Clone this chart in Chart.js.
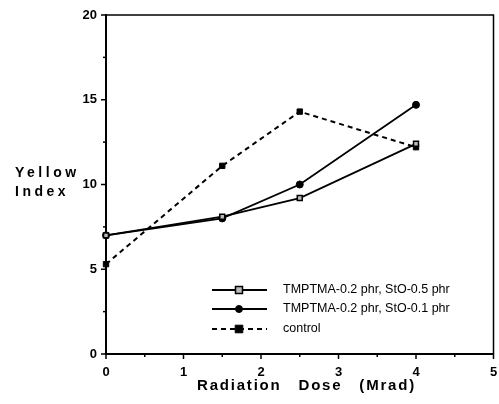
<!DOCTYPE html>
<html>
<head>
<meta charset="utf-8">
<script src="https://cdn.jsdelivr.net/npm/chart.js@4/dist/chart.umd.min.js"></script>
<style>
  html, body { margin: 0; padding: 0; background: #fff; }
  #wrap { width: 499px; height: 404px; }
</style>
</head>
<body>
<div id="wrap"><canvas id="chart" width="499" height="404"></canvas></div>
<script>
const doses = [0, 1.5, 2.5, 4];
const sto05 = [7.0, 8.1, 9.2, 12.4];
const sto01 = [7.0, 8.0, 10.0, 14.7];
const control = [5.3, 11.1, 14.3, 12.2];
const seriesNames = ["TMPTMA-0.2 phr, StO-0.5 phr", "TMPTMA-0.2 phr, StO-0.1 phr", "control"];
const xTitle = "Radiation Dose (Mrad)";
const yTitle = ["Yellow", "Index"];

const FONT = '"Liberation Sans", Arial, Helvetica, sans-serif';
Chart.defaults.font.family = FONT;
Chart.defaults.color = "#000";

function pts(ys) {
  return doses.map((x, i) => ({ x: x, y: ys[i] }));
}

function drawMarker(ctx, ds, x, y) {
  const r = ds.pointRadius;
  ctx.save();
  ctx.setLineDash([]);
  ctx.lineWidth = ds.pointBorderWidth;
  ctx.strokeStyle = "#000";
  ctx.fillStyle = ds.pointBackgroundColor;
  ctx.beginPath();
  if (ds.pointStyle === "circle") ctx.arc(x, y, r, 0, Math.PI * 2);
  else ctx.rect(x - r, y - r, r * 2, r * 2);
  ctx.fill();
  ctx.stroke();
  ctx.restore();
}

// frame, minor ticks, titles and the inside legend
const decor = {
  id: "decor",
  afterDraw(chart) {
    const ctx = chart.ctx;
    const a = chart.chartArea;
    const xs = chart.scales.x, ys = chart.scales.y;
    ctx.save();
    ctx.strokeStyle = "#000";

    // top + right frame
    ctx.lineWidth = 1.5;
    ctx.beginPath();
    ctx.moveTo(a.left, a.top);
    ctx.lineTo(a.right, a.top);
    ctx.lineTo(a.right, a.bottom);
    ctx.stroke();

    // tick marks
    ctx.lineWidth = 1.5;
    for (let v = 0; v <= 5.001; v += 0.5) {
      const px = xs.getPixelForValue(v);
      const len = Math.abs(v - Math.round(v)) < 0.01 ? 5 : 3;
      ctx.beginPath();
      ctx.moveTo(px, a.bottom);
      ctx.lineTo(px, a.bottom + len);
      ctx.stroke();
    }
    for (let v = 0; v <= 20.001; v += 2.5) {
      const py = ys.getPixelForValue(v);
      const len = v % 5 === 0 ? 5 : 3;
      ctx.beginPath();
      ctx.moveTo(a.left, py);
      ctx.lineTo(a.left - len, py);
      ctx.stroke();
    }

    // axis titles
    ctx.fillStyle = "#000";
    ctx.font = "bold 14px " + FONT;
    ctx.letterSpacing = "3.5px";
    ctx.textAlign = "left";
    ctx.textBaseline = "alphabetic";
    ctx.fillText(yTitle[0], 15, 177);
    ctx.fillText(yTitle[1], 15, 196);

    ctx.font = "bold 15px " + FONT;
    ctx.letterSpacing = "1.8px";
    ctx.wordSpacing = "11px";
    ctx.fillText(xTitle, 197, 390);
    ctx.letterSpacing = "0px";
    ctx.wordSpacing = "0px";

    // legend
    ctx.font = "12.5px " + FONT;
    const rows = [290, 309, 329];
    chart.data.datasets.forEach((ds, i) => {
      const y = rows[i];
      ctx.lineWidth = ds.borderWidth;
      ctx.setLineDash(ds.borderDash || []);
      ctx.beginPath();
      ctx.moveTo(212, y);
      ctx.lineTo(267, y);
      ctx.stroke();
      drawMarker(ctx, ds, 239, y);
      ctx.fillStyle = "#000";
      ctx.textBaseline = "middle";
      ctx.fillText(seriesNames[i], 283, y);
    });
    ctx.restore();
  }
};

new Chart(document.getElementById("chart"), {
  type: "line",
  data: {
    datasets: [
      {
        label: seriesNames[0],
        data: pts(sto05),
        borderColor: "#000",
        borderWidth: 1.8,
        pointStyle: "rect",
        pointRadius: 3.5,
        pointBorderWidth: 1.5,
        pointBackgroundColor: "#bbb",
        pointBorderColor: "#000",
        clip: false
      },
      {
        label: seriesNames[1],
        data: pts(sto01),
        borderColor: "#000",
        borderWidth: 1.8,
        pointStyle: "circle",
        pointRadius: 3.5,
        pointBorderWidth: 1,
        pointBackgroundColor: "#000",
        pointBorderColor: "#000",
        clip: false
      },
      {
        label: seriesNames[2],
        data: pts(control),
        borderColor: "#000",
        borderWidth: 2,
        borderDash: [5, 4],
        pointStyle: "rect",
        pointRadius: 3.8,
        pointBorderWidth: 1,
        pointBackgroundColor: "#000",
        pointBorderColor: "#000",
        clip: false
      }
    ]
  },
  options: {
    responsive: false,
    animation: false,
    layout: { padding: { left: 0, top: 15, right: 5, bottom: 0 } },
    plugins: { legend: { display: false }, tooltip: { enabled: false } },
    scales: {
      x: {
        type: "linear",
        min: 0,
        max: 5,
        grid: { display: false, drawTicks: false },
        border: { display: true, color: "#000", width: 2 },
        ticks: { stepSize: 1, padding: 11, font: { size: 13, weight: "bold" } },
        afterFit(s) { s.height = 50; s.paddingRight = 0; s.paddingLeft = 0; }
      },
      y: {
        min: 0,
        max: 20,
        grid: { display: false, drawTicks: false },
        border: { display: true, color: "#000", width: 2 },
        ticks: { stepSize: 5, padding: 9, font: { size: 13, weight: "bold" } },
        afterFit(s) { s.width = 106; s.paddingTop = 0; s.paddingBottom = 0; }
      }
    }
  },
  plugins: [decor]
});
</script>
</body>
</html>
